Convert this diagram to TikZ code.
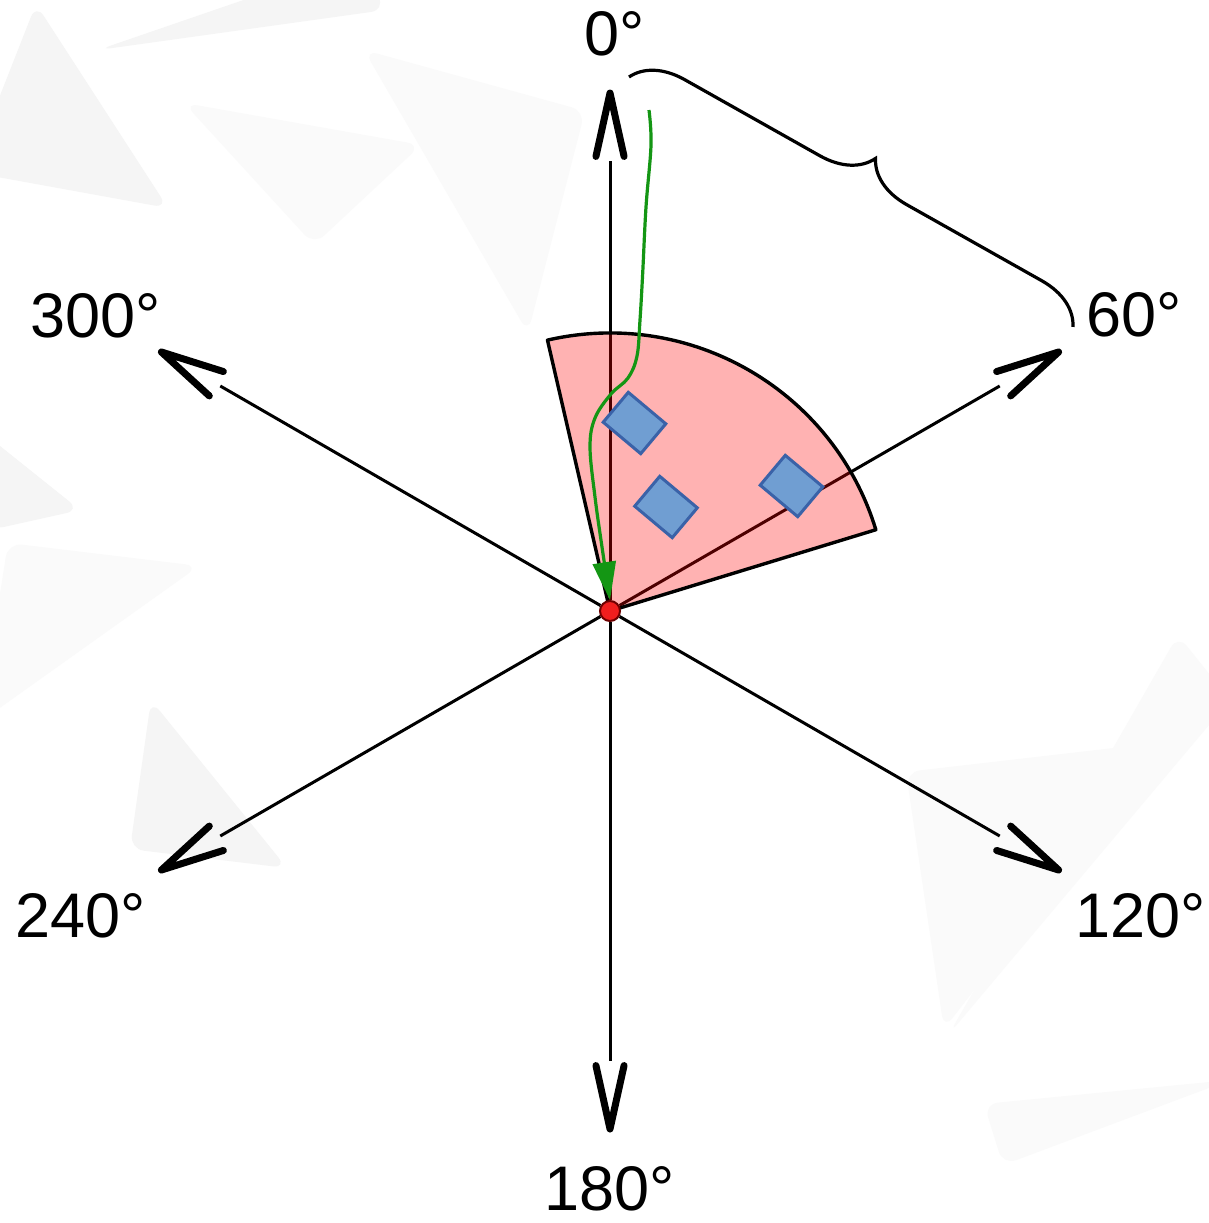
\documentclass[tikz,border=0pt]{standalone}
\usepackage{fontspec}
\setmainfont{Liberation Sans}
\usetikzlibrary{arrows.meta,decorations.pathreplacing,calc}
\pgfdeclarelayer{bg}
\pgfdeclarelayer{fg}
\pgfsetlayers{bg,main,fg}
\definecolor{tilefill}{RGB}{112,158,210}
\definecolor{tiledraw}{RGB}{58,98,168}
\definecolor{pathgreen}{RGB}{20,150,20}
\definecolor{dotred}{RGB}{240,30,30}
\definecolor{dotedge}{RGB}{110,0,0}
\begin{document}
\begin{tikzpicture}[x=1pt,y=-1pt,
  shaft/.style={line width=3pt, draw=black},
  vhead/.style={line width=7pt, line cap=round, line join=round},
  lbl/.style={inner sep=0pt, font=\fontsize{63}{70}\selectfont},
  sector/.style={fill=red, fill opacity=0.3, draw=black, line width=3.4pt, line join=round},
  tile/.style={draw=tiledraw, fill=tilefill, line width=3pt, minimum width=49pt, minimum height=39pt, inner sep=0pt, rotate=-40},
  greenpath/.style={draw=pathgreen, line width=3.2pt, -{Triangle[length=38pt,width=23pt]}},
  dotst/.style={circle, fill=dotred, draw=dotedge, line width=2pt, minimum size=20pt, inner sep=0pt},
  bracest/.style={line width=3.2pt, decorate, decoration={brace, amplitude=50pt}},
  bgtri/.style={fill=black!4, rounded corners=14pt},
  bgtrib/.style={fill=black!2, rounded corners=14pt}]
\useasboundingbox (0,0) rectangle (1208,1223);
\begin{pgfonlayer}{bg}
  \fill[white] (0,0) rectangle (1208,1223);
  \fill[bgtri] (36,4) -- (168,208) -- (-30,172) -- cycle;
  \fill[bgtri] (98,50) -- (385,10) -- (360,-40) -- cycle;
  \fill[bgtrib] (364,50) -- (585,111) -- (528,333) -- cycle;
  \fill[bgtrib] (184,103) -- (421,145) -- (314,245) -- cycle;
  \fill[bgtri] (-20,430) -- (80,510) -- (-10,530) -- cycle;
  \fill[bgtrib] (8,543) -- (199,566) -- (-20,722) -- cycle;
  \fill[bgtri] (151,700) -- (287,868) -- (130,849) -- cycle;
  \fill[bgtrib] (906,772) -- (1166,742) -- (944,1029) -- cycle;
  \fill[bgtrib] (1178,635) -- (1230,700) -- (949,1034) -- cycle;
  \fill[bgtrib] (984,1104) -- (1230,1080) -- (1003,1165) -- cycle;
\end{pgfonlayer}

\coordinate (o) at (610,611);
\begin{pgfonlayer}{fg}
  \node[dotst] (dot) at (o) {};
\end{pgfonlayer}

% axes
\foreach \c in {0,60,120,180,240,300}{
  \pgfmathsetmacro\th{\c-90}
  \pgfmathsetmacro\aa{\c+90-12.5}
  \pgfmathsetmacro\ab{\c+90+12.5}
  \coordinate (s\c) at ($(o)+(\th:450)$);
  \coordinate (t\c) at ($(o)+(\th:518)$);
  \coordinate (ha\c) at ($(t\c)+(\aa:65)$);
  \coordinate (hb\c) at ($(t\c)+(\ab:65)$);
  \draw[shaft] (dot) -- (s\c);
  \draw[vhead] (ha\c) -- (t\c) -- (hb\c);
}

% sector
\filldraw[sector] (o) -- ($(o)+(-103:278)$) arc[start angle=-103, end angle=-17, radius=278] -- cycle;

% tiles
\node[tile] (d1) at (634.5,423) {};
\node[tile] (d2) at (666,507) {};
\node[tile] (d3) at (791.5,486) {};

% green path
\coordinate (gs) at (649,110);
\draw[greenpath] plot[smooth, tension=0.6] coordinates {(gs) (651,145) (646,207) (642.6,275) (640,320) (637,356) (628,378) (611,394) (595,418) (590,447) (595,497) (602,547) (dot.north)};

% brace
\coordinate (bA) at (629,77);
\coordinate (bB) at (1073,327);
\draw[bracest] (bA) -- (bB);

% labels
\node[lbl] (l0) at (614.7,33.5) {0°};
\node[lbl] (l60) at (1134.5,314.5) {60°};
\node[lbl] (l120) at (1141,915.5) {120°};
\node[lbl] (l180) at (610,1188.7) {180°};
\node[lbl] (l240) at (80.5,916) {240°};
\node[lbl] (l300) at (96,316) {300°};
\end{tikzpicture}
\end{document}
